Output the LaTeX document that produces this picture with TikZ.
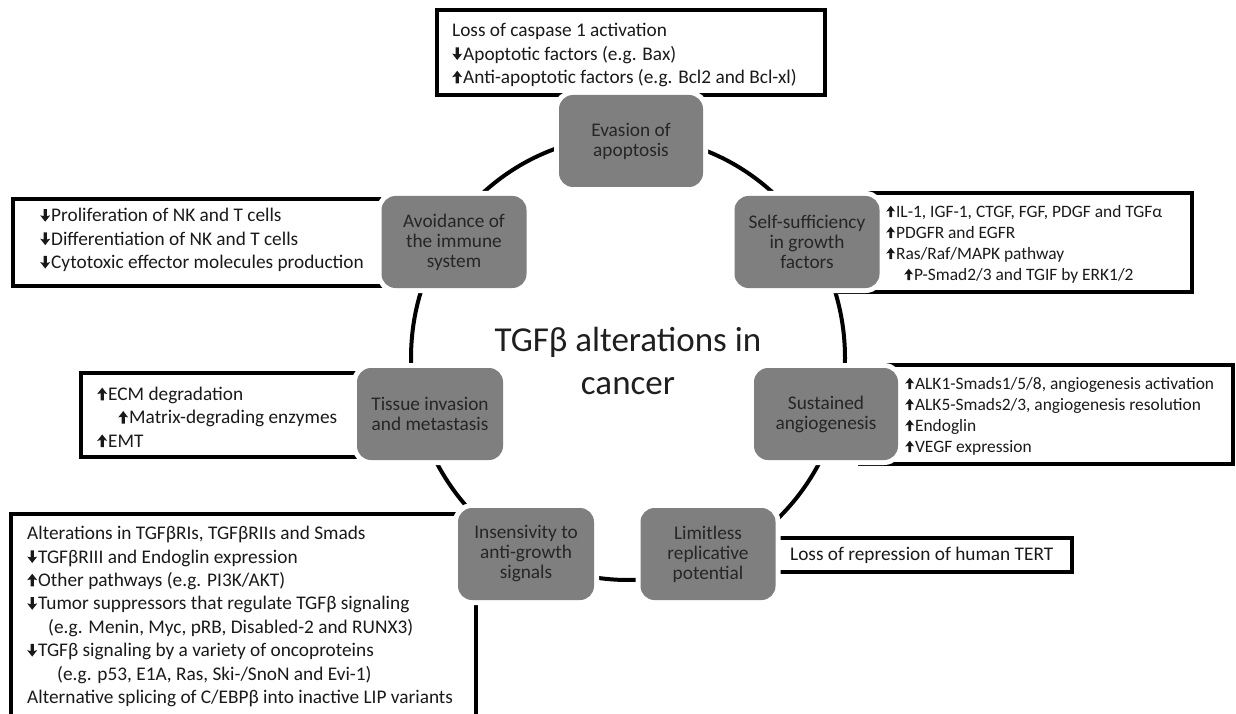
\documentclass[tikz,border=0pt]{standalone}
\usepackage{fontspec}
\setmainfont{Carlito}
\newdimen\arrowadv \arrowadv=11pt
\newcommand{\uar}[1][1]{\mbox{\special{pdf:content q 0.1 0.1 0.1 rg #1 0 0 #1 0 0 cm 3.4 0 m 3.4 7 l 0 6.2 l 5 12.6 l 10 6.2 l 6.6 7 l 6.6 0 l h f Q}\kern#1\arrowadv}}
\newcommand{\dar}[1][1]{\mbox{\special{pdf:content q 0.1 0.1 0.1 rg #1 0 0 #1 0 0 cm 3.4 12.6 m 3.4 5.6 l 0 6.4 l 5 0 l 10 6.4 l 6.6 5.6 l 6.6 12.6 l h f Q}\kern#1\arrowadv}}
\definecolor{hallgray}{HTML}{7F7F7F}
\definecolor{halltext}{HTML}{262626}
\definecolor{boxtext}{HTML}{1A1A1A}
\begin{document}
\begin{tikzpicture}[x=1pt,y=-1pt,
  hall/.style={rectangle, rounded corners=14pt, fill=hallgray,
    preaction={draw=white, line width=10pt},
    text=halltext, align=center, font=\fontsize{19.3}{20}\selectfont,
    minimum width=#1, minimum height=92pt, inner sep=0pt},
  tbox/.style={rectangle, draw=black, fill=white, line width=3.5pt,
    inner sep=0pt, outer sep=0pt},
  txt/.style={align=left, inner sep=0pt, text=boxtext,
    font=\fontsize{19.3}{23.4}\selectfont},
  stxt/.style={align=left, inner sep=0pt, text=boxtext,
    font=\fontsize{17.4}{21}\selectfont},
  ring/.style={line width=4pt, draw=black}
]
\useasboundingbox (0,0) rectangle (1236,714);
\clip (0,0) rectangle (1236,714);

% ring
\coordinate (rc) at (628,358);
\draw[ring] (rc) ellipse [x radius=217, y radius=222];

% text boxes
\node[tbox, minimum width=388, minimum height=85] (apopbox) at (631,52.5) {};
\node[txt, anchor=west] (apoptxt) at (452,55)
  {Loss of caspase 1 activation\\
   \dar Apoptotic factors (e.g. Bax)\\
   \uar Anti-apoptotic factors (e.g. Bcl2 and Bcl-xl)};

\node[tbox, minimum width=407, minimum height=87] (immbox) at (216.5,242.5) {};
\node[txt, anchor=west] (immtxt) at (40,240)
  {\dar Proliferation of NK and T cells\\
   \dar Differentiation of NK and T cells\\
   \dar Cytotoxic effector molecules production};

\node[tbox, minimum width=352, minimum height=99] (selfbox) at (1016,242.5) {};
\node[stxt, anchor=west] (selftxt) at (886,244)
  {\uar[0.9]IL-1, IGF-1, CTGF, FGF, PDGF and TGFα\\
   \uar[0.9]PDGFR and EGFR\\
   \uar[0.9]Ras/Raf/MAPK pathway\\
   \hspace*{18pt}\uar[0.9]P-Smad2/3 and TGIF by ERK1/2};

\node[tbox, minimum width=373, minimum height=99] (angiobox) at (1046.5,414.5) {};
\node[stxt, anchor=west] (angiotxt) at (905,416)
  {\uar[0.9]ALK1-Smads1/5/8, angiogenesis activation\\
   \uar[0.9]ALK5-Smads2/3, angiogenesis resolution\\
   \uar[0.9]Endoglin\\
   \uar[0.9]VEGF expression};

\node[tbox, minimum width=332, minimum height=34] (limbox) at (906,555) {};
\node[txt, anchor=west] (limtxt) at (790,555) {Loss of repression of human TERT};

\node[tbox, minimum width=319, minimum height=84] (ecmbox) at (240.5,415) {};
\node[txt, anchor=west] (ecmtxt) at (97,417)
  {\uar ECM degradation\\
   \hspace*{21pt}\uar Matrix-degrading enzymes\\
   \uar EMT};

\node[tbox, minimum width=465, minimum height=246] (antibox) at (243.5,637) {};
\node[txt, anchor=north west] (antitxt) at (27,526)
  {Alterations in TGFβRIs, TGFβRIIs and Smads\\
   \dar TGFβRIII and Endoglin expression\\
   \uar Other pathways (e.g. PI3K/AKT)\\
   \dar Tumor suppressors that regulate TGFβ signaling\\
   \hspace*{21pt}(e.g. Menin, Myc, pRB, Disabled-2 and RUNX3)\\
   \dar TGFβ signaling by a variety of oncoproteins\\
   \hspace*{30pt}(e.g. p53, E1A, Ras, Ski-/SnoN and Evi-1)\\
   Alternative splicing of C/EBPβ into inactive LIP variants};

% hallmark nodes
\node[hall=144] (evasion) at (631,141) {Evasion of\\apoptosis};
\node[hall=145] (immune) at (454,242) {Avoidance of\\the immune\\system};
\node[hall=145] (selfsuff) at (807,242) {Self-sufficiency\\in growth\\factors};
\node[hall=144] (angio) at (826,414) {Sustained\\angiogenesis};
\node[hall=146] (tissue) at (430,414) {Tissue invasion\\and metastasis};
\node[hall=136] (insens) at (526,554) {Insensivity to\\anti-growth\\signals};
\node[hall=135] (limitless) at (708,554) {Limitless\\replicative\\potential};

% centre
\node[align=center, inner sep=0pt, text=black!88,
  font=\fontsize{35}{43}\selectfont] (centre) at (628,361)
  {TGFβ alterations in\\cancer};
\end{tikzpicture}
\end{document}
